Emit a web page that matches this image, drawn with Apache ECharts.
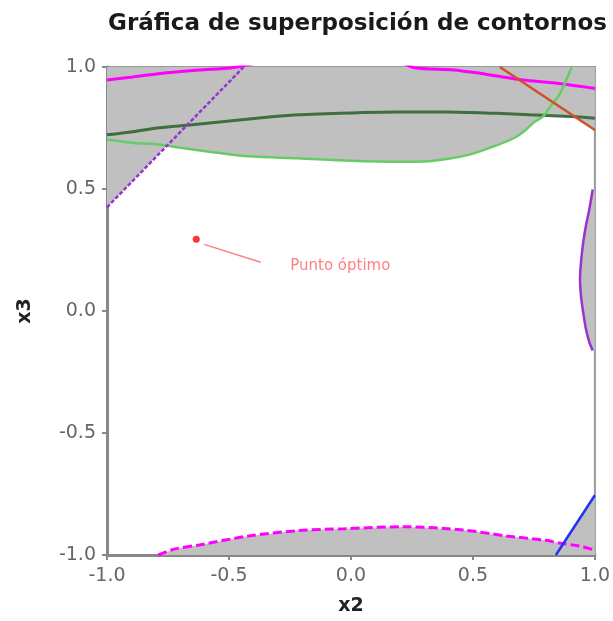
<!DOCTYPE html>
<html>
<head>
<meta charset="utf-8">
<script src="https://cdn.jsdelivr.net/npm/echarts@6/dist/echarts.min.js"></script>
<style>html,body{margin:0;padding:0;background:#fff}#c{width:613px;height:621px}</style>
</head>
<body>
<div id="c"></div>
<script>
// ---- data ----
const titleText = 'Gráfica de superposición de contornos';
const xName = 'x2';
const yName = 'x3';
const axisMin = -1, axisMax = 1, axisStep = 0.5;

const lightGreenCurve = [[-1,0.703],[-0.9,0.69],[-0.785,0.682],[-0.7,0.669],[-0.58,0.653],[-0.42,0.634],[-0.22,0.626],[0,0.616],[0.2,0.612],[0.3,0.613],[0.4,0.624],[0.5,0.645],[0.6,0.68],[0.667,0.708],[0.71,0.737],[0.75,0.773],[0.79,0.80],[0.813,0.833],[0.854,0.886],[0.905,1.0]];
const darkGreenCurve = [[-1,0.722],[-0.894,0.735],[-0.785,0.751],[-0.65,0.763],[-0.488,0.78],[-0.325,0.796],[-0.215,0.804],[0.19,0.816],[0.394,0.816],[0.598,0.81],[0.732,0.804],[0.923,0.796],[1,0.79]];
const redLine = [[0.61,1.0],[1.0,0.742]];
const purpleDashedLine = [[-1,0.425],[-0.44,1.0]];
const topMagentaCurve = [[-1,0.947],[-0.894,0.959],[-0.756,0.976],[-0.622,0.988],[-0.488,0.997],[-0.3,1.03],[0,1.04],[0.2,1.02],[0.26,0.997],[0.42,0.988],[0.516,0.976],[0.598,0.963],[0.707,0.947],[0.83,0.935],[1,0.912]];
const bottomMagentaCurve = [[-0.79,-1.0],[-0.72,-0.975],[-0.622,-0.959],[-0.419,-0.922],[-0.215,-0.90],[-0.024,-0.892],[0.22,-0.884],[0.463,-0.898],[0.638,-0.922],[0.8,-0.94],[0.854,-0.951],[0.935,-0.963],[1.0,-0.98]];
const blueLine = [[0.84,-1.0],[1.0,-0.755]];
const rightPurpleCurve = [[0.991,0.498],[0.977,0.416],[0.963,0.348],[0.952,0.28],[0.943,0.199],[0.939,0.131],[0.943,0.062],[0.952,-0.005],[0.963,-0.073],[0.977,-0.128],[0.991,-0.162]];

// shaded (infeasible) regions
const topShade = [[-1,1],[1,1],[1,0.742],[0.923,0.796],[0.79,0.80],[0.75,0.773],[0.71,0.737],[0.667,0.708],[0.6,0.68],[0.5,0.645],[0.4,0.624],[0.3,0.613],[0.2,0.612],[0,0.616],[-0.22,0.626],[-0.42,0.634],[-0.58,0.653],[-0.7,0.669],[-0.755,0.678],[-1,0.425]];
const bottomShade = [[-0.79,-1.0],[-0.72,-0.975],[-0.622,-0.959],[-0.419,-0.922],[-0.215,-0.90],[-0.024,-0.892],[0.22,-0.884],[0.463,-0.898],[0.638,-0.922],[0.8,-0.94],[0.854,-0.951],[0.87,-0.954],[1.0,-0.755],[1.0,-1.0]];
const rightShade = [[1,0.498],[0.991,0.498],[0.977,0.416],[0.963,0.348],[0.952,0.28],[0.943,0.199],[0.939,0.131],[0.943,0.062],[0.952,-0.005],[0.963,-0.073],[0.977,-0.128],[0.991,-0.162],[1,-0.162]];

const optimumPoint = [-0.634, 0.294];
const optimumLabel = 'Punto óptimo';
const leaderLine = [[-0.602,0.273],[-0.37,0.2]];

// ---- chart ----
const FONT = 'DejaVu Sans';
function shade(points){
  return {
    type:'custom', silent:true, z:1, clip:true,
    data: points,
    renderItem: function(params, api){
      if (params.dataIndex !== 0) return;
      return {type:'polygon', shape:{points: points.map(p => api.coord(p))}, style:{fill:'#c0c0c0'}};
    }
  };
}
function line(data, color, width, dash, smooth){
  return {type:'line', data:data, showSymbol:false, symbol:'none', smooth: smooth||0, clip:true, z:3, silent:true,
    lineStyle:{color:color, width:width, type: dash || 'solid'}};
}

const chart = echarts.init(document.getElementById('c'));
chart.setOption({
  animation:false,
  title:{text:titleText, left:103, top:8, textStyle:{fontFamily:FONT, fontSize:23, fontWeight:'bold', color:'#1a1a1a'}},
  grid:{left:107, top:67, width:492, height:490, show:true, borderColor:'#999', borderWidth:2, backgroundColor:'#fff'},
  xAxis:{type:'value', min:axisMin, max:axisMax, interval:axisStep,
    name:xName, nameLocation:'middle', nameGap:42,
    nameTextStyle:{fontFamily:FONT, fontSize:19, fontWeight:'bold', color:'#222'},
    axisLine:{show:true, onZero:false, lineStyle:{color:'#888', width:3}},
    axisTick:{show:true, length:5, lineStyle:{color:'#888', width:2}},
    axisLabel:{fontFamily:FONT, fontSize:19, color:'#666', margin:12, formatter:v=>v.toFixed(1)},
    splitLine:{show:false}},
  yAxis:{type:'value', min:axisMin, max:axisMax, interval:axisStep,
    name:yName, nameLocation:'middle', nameGap:72, nameRotate:90,
    nameTextStyle:{fontFamily:FONT, fontSize:19, fontWeight:'bold', color:'#222'},
    axisLine:{show:true, onZero:false, lineStyle:{color:'#888', width:3}},
    axisTick:{show:true, length:5, lineStyle:{color:'#888', width:2}},
    axisLabel:{fontFamily:FONT, fontSize:19, color:'#666', margin:11, formatter:v=>v.toFixed(1)},
    splitLine:{show:false}},
  series:[
    shade(topShade), shade(bottomShade), shade(rightShade),
    line(topMagentaCurve, '#ff00ff', 3, null, 0.3),
    line(darkGreenCurve, '#3f6e3f', 3, null, 0.3),
    line(lightGreenCurve, '#66cc66', 2.5, null, 0.3),
    line(purpleDashedLine, '#9933cc', 2.5, [4,2]),
    line(redLine, '#d0502a', 2.5),
    line(rightPurpleCurve, '#9933cc', 2.5, null, 0.3),
    line(bottomMagentaCurve, '#ff00ff', 3, [9,4], 0.3),
    line(blueLine, '#2233ee', 2.5),
    line(leaderLine, '#ff8080', 1.5),
    {type:'scatter', data:[optimumPoint], symbol:'circle', symbolSize:7, z:5, silent:true,
      itemStyle:{color:'#ff0000'},
      label:{show:true, formatter:optimumLabel, position:'inside', offset:[144,27], fontFamily:FONT, fontSize:15, color:'#ff6060'}}
  ]
});
</script>
</body>
</html>
